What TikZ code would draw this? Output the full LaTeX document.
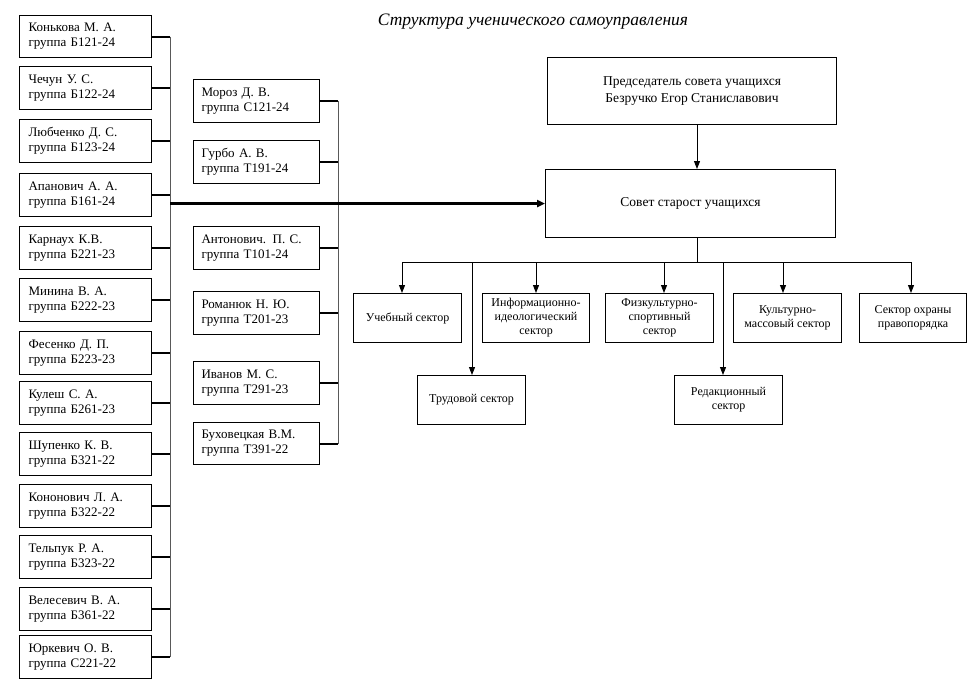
\documentclass[tikz,border=0pt]{standalone}
\usepackage{fontspec}
\setmainfont{Liberation Serif}
\usetikzlibrary{arrows.meta}
\begin{document}
\begin{tikzpicture}[x=1pt,y=-1pt,
 every node/.style={font=\fontsize{13}{15}\selectfont},
 lbox/.style={draw, line width=1.1pt, anchor=north west, minimum width=132pt, minimum height=43pt, text width=114pt, align=left, inner xsep=9pt, inner ysep=0pt},
 mbox/.style={lbox, minimum width=126pt, text width=110pt, inner xsep=8pt},
 cbox/.style={draw, line width=1.1pt, anchor=north west, align=center, inner sep=0pt, font=\fontsize{13.5}{17}\selectfont},
 sbox/.style={cbox, minimum width=108pt, minimum height=49pt, font=\fontsize{12}{14}\selectfont},
 stub/.style={line width=2pt},
 vbus/.style={line width=1pt, black!65},
 arr/.style={line width=1pt, -{Triangle[length=8pt,width=6pt]}},
]
\fill[white] (0,0) rectangle (980,694);
\useasboundingbox (0,0) rectangle (980,694);

% title
\node[font=\fontsize{17.5}{20}\selectfont\itshape] (title) at (533,22) {Структура ученического самоуправления};

% left column
\node[lbox, minimum height=42pt] (a1) at (19,15) {Конькова М. А.\\группа Б121-24};
\node[lbox] (a2) at (19,66) {Чечун У. С.\\группа Б122-24};
\node[lbox] (a3) at (19,119) {Любченко Д. С.\\группа Б123-24};
\node[lbox] (a4) at (19,173) {Апанович А. А.\\группа Б161-24};
\node[lbox] (a5) at (19,226) {Карнаух К.В.\\группа Б221-23};
\node[lbox] (a6) at (19,278) {Минина В. А.\\группа Б222-23};
\node[lbox] (a7) at (19,331) {Фесенко Д. П.\\группа Б223-23};
\node[lbox] (a8) at (19,381) {Кулеш С. А.\\группа Б261-23};
\node[lbox] (a9) at (19,432) {Шупенко К. В.\\группа Б321-22};
\node[lbox] (a10) at (19,484) {Кононович Л. А.\\группа Б322-22};
\node[lbox] (a11) at (19,535) {Тельпук Р. А.\\группа Б323-22};
\node[lbox] (a12) at (19,587) {Велесевич В. А.\\группа Б361-22};
\node[lbox] (a13) at (19,635) {Юркевич О. В.\\группа С221-22};

% middle column
\node[mbox] (m1) at (193,79) {Мороз Д. В.\\группа С121-24};
\node[mbox] (m2) at (193,140) {Гурбо А. В.\\группа Т191-24};
\node[mbox] (m3) at (193,226) {Антонович. П. С.\\группа Т101-24};
\node[mbox] (m4) at (193,291) {Романюк Н. Ю.\\группа Т201-23};
\node[mbox] (m5) at (193,361) {Иванов М. С.\\группа Т291-23};
\node[mbox, minimum height=42pt] (m6) at (193,422) {Буховецкая В.М.\\группа Т391-22};

% right part
\node[cbox, minimum width=289pt, minimum height=67pt] (pred) at (547,57) {Председатель совета учащихся\\Безручко Егор Станиславович};
\node[cbox, minimum width=290pt, minimum height=68pt] (sovet) at (545,169) {Совет старост учащихся};

\node[sbox] (s1) at (353,293) {Учебный сектор};
\node[sbox] (s2) at (417,375) {Трудовой сектор};
\node[sbox, minimum width=107pt] (s3) at (482,293) {Информационно-\\идеологический\\сектор};
\node[sbox] (s4) at (605,293) {Физкультурно-\\спортивный\\сектор};
\node[sbox] (s5) at (674,375) {Редакционный\\сектор};
\node[sbox] (s6) at (733,293) {Культурно-\\массовый сектор};
\node[sbox, minimum width=107pt] (s7) at (859,293) {Сектор охраны\\правопорядка};

% buses
\coordinate (lbus) at (170,0);
\coordinate (mbus) at (338,0);
\coordinate (ax) at (697,0);
\coordinate (sbus) at (0,262);

\foreach \n in {a1,a2,a3,a4,a5,a6,a7,a8,a9,a10,a11,a12,a13}
  \draw[stub] (\n.east) -- (\n.east -| lbus);
\draw[vbus] (a1.east -| lbus) -- (a13.east -| lbus);

\foreach \n in {m1,m2,m3,m4,m5,m6}
  \draw[stub] (\n.east) -- (\n.east -| mbus);
\draw[vbus] (m1.east -| mbus) -- (m6.east -| mbus);

\draw[line width=2.2pt, -{Triangle[length=8pt,width=7pt]}] (lbus |- sovet.west) -- (sovet.west);

\draw[arr] (ax |- pred.south) -- (ax |- sovet.north);
\draw[line width=1pt] (ax |- sovet.south) -- (ax |- sbus);

\coordinate (x1) at (402,0);
\coordinate (x2) at (472,0);
\coordinate (x3) at (536,0);
\coordinate (x4) at (664,0);
\coordinate (x5) at (723,0);
\coordinate (x6) at (783,0);
\coordinate (x7) at (911,0);
\draw[line width=1pt] (x1 |- sbus) -- (x7 |- sbus);
\draw[arr] (x1 |- sbus) -- (x1 |- s1.north);
\draw[arr] (x2 |- sbus) -- (x2 |- s2.north);
\draw[arr] (x3 |- sbus) -- (x3 |- s3.north);
\draw[arr] (x4 |- sbus) -- (x4 |- s4.north);
\draw[arr] (x5 |- sbus) -- (x5 |- s5.north);
\draw[arr] (x6 |- sbus) -- (x6 |- s6.north);
\draw[arr] (x7 |- sbus) -- (x7 |- s7.north);
\end{tikzpicture}
\end{document}
